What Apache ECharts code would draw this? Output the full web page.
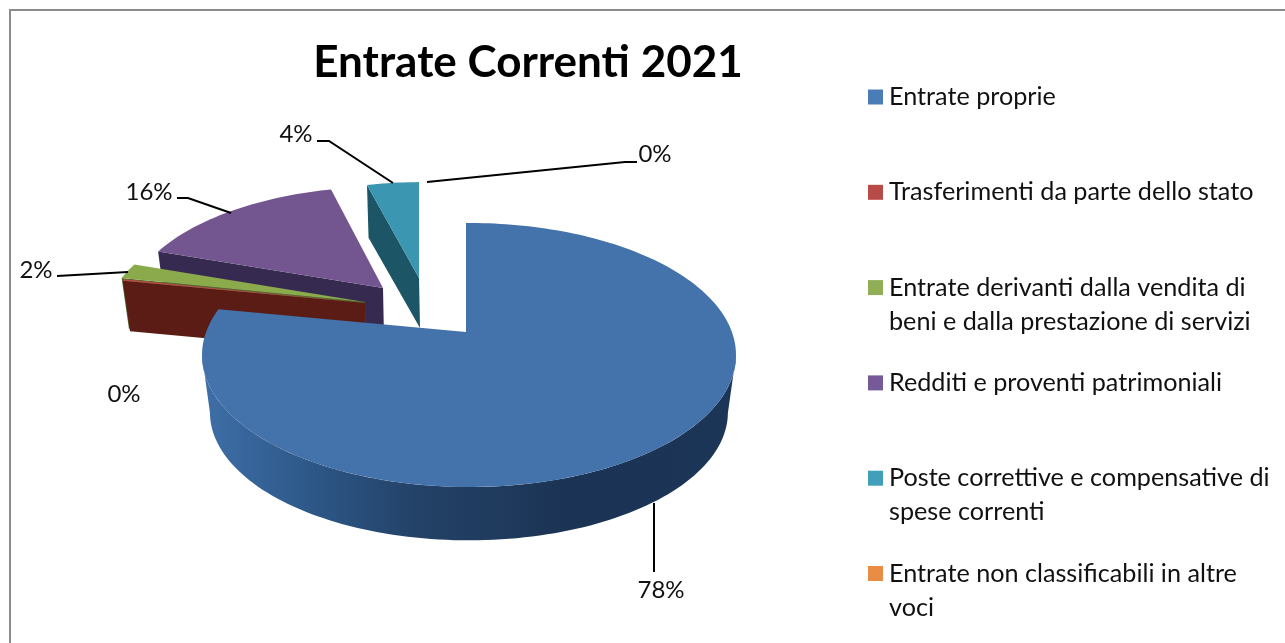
<!DOCTYPE html>
<html><head><meta charset="utf-8">
<style>html,body{margin:0;padding:0;background:#fff}#c{width:1285px;height:643px}</style>
<script src="https://cdn.jsdelivr.net/npm/echarts@6/dist/echarts.min.js"></script>
</head><body><div id="c"></div>
<script>
const titleText = 'Entrate Correnti 2021';
const categories = ['Entrate proprie','Trasferimenti da parte dello stato','Entrate derivanti dalla vendita di beni e dalla prestazione di servizi','Redditi e proventi patrimoniali','Poste correttive e compensative di spese correnti','Entrate non classificabili in altre voci'];
const values = [77.9, 0.2, 1.9, 15.9, 4.1, 0];
const legendLines = [['Entrate proprie'],['Trasferimenti da parte dello stato'],['Entrate derivanti dalla vendita di','beni e dalla prestazione di servizi'],['Redditi e proventi patrimoniali'],['Poste correttive e compensative di','spese correnti'],['Entrate non classificabili in altre','voci']];
const colors = ['#4a7cb6','#b84a47','#8fae55','#765a97','#429fb9','#e98d45'];

// layout of the exploded 3D view
const FONT = 'Lato';
const view = [
  {ax:466,ay:332,s:1,   wx:1,   k:2,  d:58,top:'#4472aa',wall:'#2a4f7c',z:9},
  {ax:365,ay:303,s:.97, wx:1.01,k:2,  d:50,top:'#b84a47',wall:'#5a1c14',z:4},
  {ax:365,ay:302,s:.97, wx:1.02,k:2,  d:50,top:'#8aaa4c',wall:'#55692c',z:3},
  {ax:383,ay:288,s:.93, wx:1.04,k:2,  d:50,top:'#73558f',wall:'#372a50',z:1},
  {ax:419,ay:278,s:.88, wx:1.06,k:2.12,d:50,top:'#3b97b1',wall:'#1c5566',z:2},
  {ax:421,ay:278,s:.88, wx:1,   k:2,  d:50,top:'#e98d45',wall:'#8a4f20',z:2}
];
const labelPos = [[661,590],[124,394],[36,270],[149,192],[296,134],[655,154]];
const leaders = [
  [[654,503],[654,572]],
  null,
  [[57,276],[128,272]],
  [[177,198],[188,198],[231,213]],
  [[317,141],[329,141],[393,183]],
  [[427,182],[625,162],[637,162]]
];

const R = 267, RY = 132, CX = 3, CY = 23, RAD = Math.PI/180;
function rim(v, deg, deep){
  const sc = v.s*(deep?0.97:1), ax = v.ax, ay = v.ay+(deep?v.d:0);
  const dx = v.k*Math.sin(deg*RAD), dy = -Math.cos(deg*RAD);
  const cx = CX*sc, cy = CY*sc, rx = R*sc*v.wx, ry = RY*sc;
  const a = dx*dx/(rx*rx)+dy*dy/(ry*ry);
  const b = -2*(dx*cx/(rx*rx)+dy*cy/(ry*ry));
  const c = cx*cx/(rx*rx)+cy*cy/(ry*ry)-1;
  const t = (-b+Math.sqrt(b*b-4*a*c))/(2*a);
  return [ax+t*dx, ay+t*dy];
}
function arc(v, a0, a1, deep){
  const n = Math.max(2, Math.ceil(Math.abs(a1-a0)/1.5)), out = [];
  for(let i=0;i<=n;i++) out.push(rim(v, a0+(a1-a0)*i/n, deep));
  return out;
}
const total = values.reduce((p,c)=>p+c,0);
const starts = []; values.reduce((p,c,i)=>{starts[i]=p;return p+c*360/total;},0);

function makeRender(i){
  return function(params, api){
    const val = api.value(0), v = view[i], a0 = starts[i], a1 = a0+val*360/total;
    const kids = [];
    if(val<=0) return {type:'group',children:kids};
    if(a0<180){
      // round outer wall facing the viewer, between the side extremes of the rim
      const from = Math.max(a0,100), to = Math.min(a1,260);
      const top = arc(v,from,to,false), low = arc(v,from,to,true).reverse();
      kids.push({type:'polygon',shape:{points:top.concat(low)},style:{
        fill:new echarts.graphic.LinearGradient(0,0,1,0,[
          {offset:0,color:'#3f6fa8'},{offset:.18,color:'#2f5a8c'},{offset:.4,color:'#234267'},
          {offset:.7,color:'#1b3354'},{offset:1,color:'#1c3658'}])}});
    } else {
      // cut face along the start edge
      const p = rim(v,a0,false), q = rim(v,a0,true);
      kids.push({type:'polygon',shape:{points:[p,[v.ax,v.ay],[v.ax+1,v.ay+v.d],q]},style:{fill:v.wall}});
    }
    kids.push({type:'polygon',shape:{points:[[v.ax,v.ay]].concat(arc(v,a0,a1,false))},style:{fill:v.top}});
    return {type:'group',children:kids};
  };
}

const series = categories.map((name,i)=>({
  type:'custom', name, coordinateSystem:'none', z:view[i].z,
  itemStyle:{color:colors[i]}, silent:true,
  data:[[values[i]]], renderItem:makeRender(i)
}));

const graphic = [
  {type:'polyline',shape:{points:[[1285,10],[10,10],[10,643]]},style:{fill:'none',stroke:'#8c8c8c',lineWidth:2},z:0}
];
leaders.forEach(l=>{ if(l) graphic.push({type:'polyline',shape:{points:l},style:{fill:'none',stroke:'#000',lineWidth:2},z:20}); });
labelPos.forEach((p,i)=>graphic.push({type:'text',x:p[0],y:p[1],z:20,style:{
  text:Math.round(values[i]*100/total)+'%',fill:'#111',font:'24px '+FONT,align:'center',verticalAlign:'middle'}}));

const chart = echarts.init(document.getElementById('c'),null,{renderer:'canvas'});
chart.setOption({
  animation:false, backgroundColor:'#fff',
  title:{text:titleText,left:523,top:36,textAlign:'center',textStyle:{fontFamily:FONT,fontWeight:'bold',fontSize:44,color:'#000'}},
  legend:{
    orient:'vertical',left:868,top:46,itemWidth:15,itemHeight:15,itemGap:-6.7,selectedMode:false,padding:0,
    icon:'rect',data:categories,
    formatter:name=>{const l=legendLines[categories.indexOf(name)];return '\n'+l[0]+'\n'+(l[1]||' ');},
    textStyle:{fontFamily:FONT,fontSize:25.2,lineHeight:34,color:'#111',padding:[0,0,0,1]}
  },
  graphic, series
});
</script></body></html>
